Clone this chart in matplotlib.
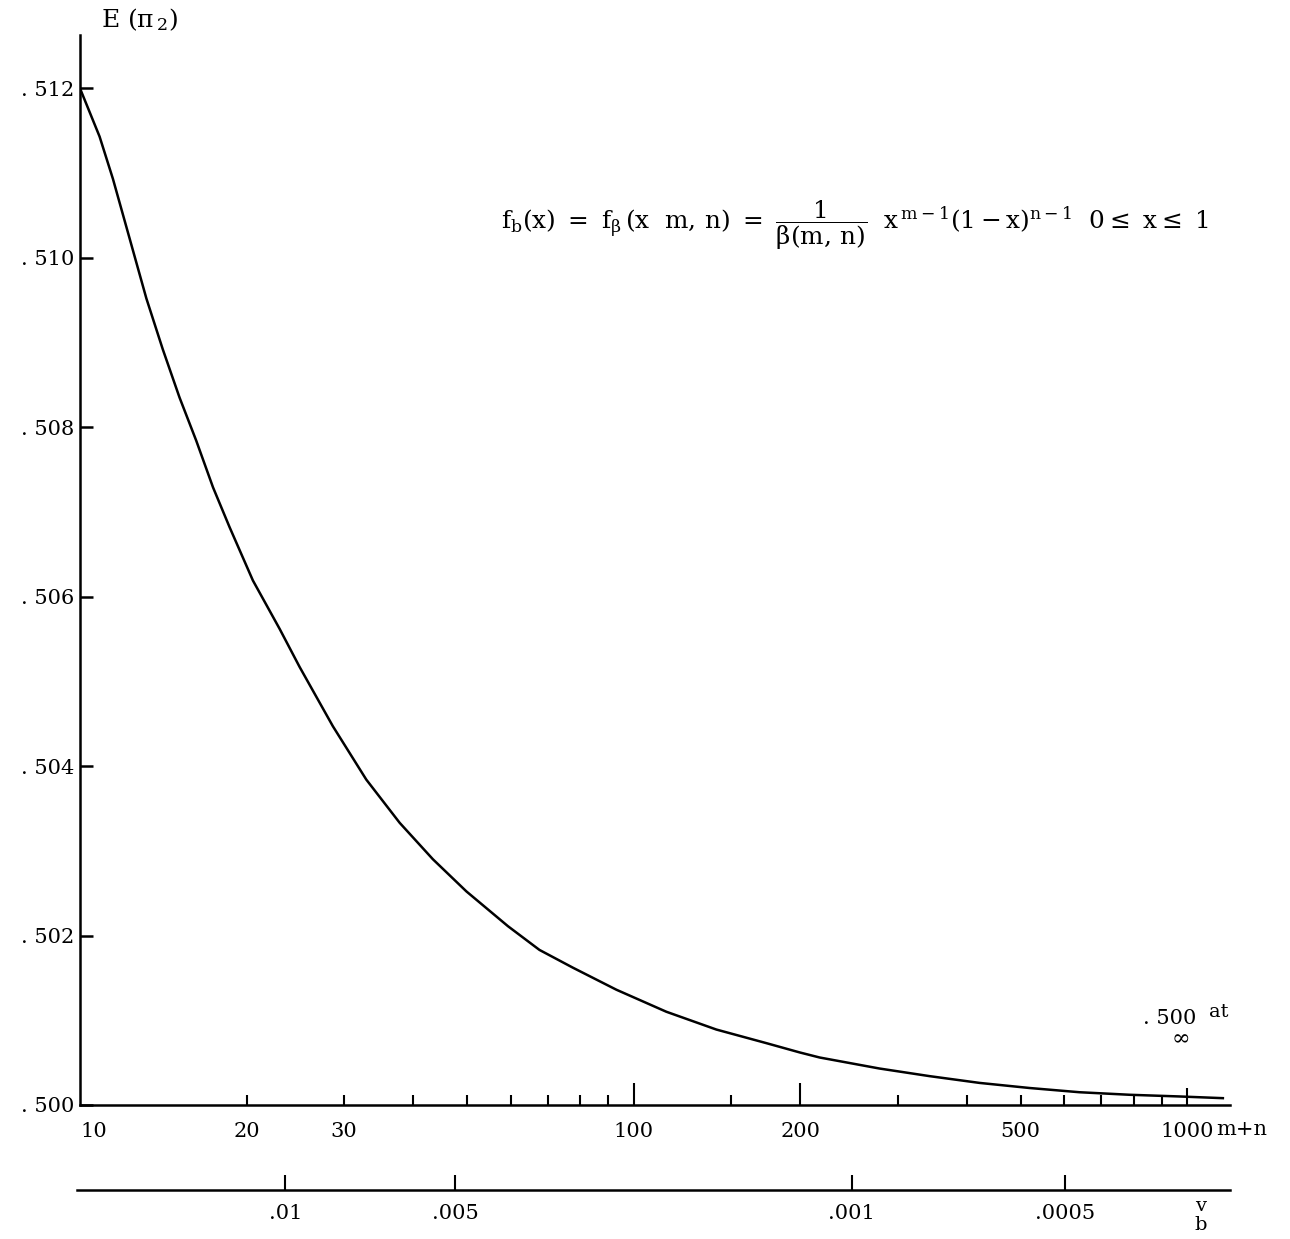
import matplotlib
matplotlib.use("Agg")
import matplotlib.pyplot as plt
import matplotlib.ticker as mticker

# curve: E(pi_2) against m+n
mn = [10, 10.85, 11.47, 12.29, 13.18, 14.11, 15.13, 16.22, 17.39, 18.63, 20.53,
      22.94, 24.93, 28.63, 32.9, 37.8, 43.4, 49.9, 59.3, 67.6, 77.7, 93.1, 114.6,
      141.1, 173.6, 199.5, 216.8, 278, 342.5, 421.7, 519, 639, 787, 969, 1160]
e_pi2 = [0.51200, 0.51143, 0.51093, 0.51023, 0.50952, 0.50892, 0.50835, 0.50784,
         0.50729, 0.50682, 0.50619, 0.50562, 0.50517, 0.50447, 0.50384, 0.50333,
         0.50290, 0.50252, 0.50211, 0.50183, 0.50162, 0.50136, 0.50110, 0.50089,
         0.50073, 0.50062, 0.50056, 0.50043, 0.50034, 0.50026, 0.50020, 0.50015,
         0.50012, 0.50010, 0.50008]

x_ticks = [10, 20, 30, 40, 50, 60, 70, 80, 90, 100, 150, 200, 300, 400, 500,
           600, 700, 800, 900, 1000]
x_labels = ['10', '20', '30', '', '', '', '', '', '', '100', '', '200', '', '',
            '500', '', '', '', '', '1000']
x_tall = [100, 200]

y_ticks = [0.500, 0.502, 0.504, 0.506, 0.508, 0.510, 0.512]
y_labels = ['. 500', '. 502', '. 504', '. 506', '. 508', '. 510', '. 512']

# second scale (v_b), positions given in m+n units
vb_labels = ['.01', '.005', '.001', '.0005']
vb_at_mn = [23.7, 48.0, 248.6, 603]

plt.rcParams['font.family'] = 'DejaVu Serif'
plt.rcParams['mathtext.fontset'] = 'dejavuserif'

fig = plt.figure(figsize=(12.9, 12.39), dpi=100)
ax = fig.add_axes([0.062, 0.1082, 0.8915, 0.8636])

ax.plot(mn, e_pi2, color='black', lw=1.8)
ax.set_xscale('log')
ax.set_xlim(10, 1195)
ax.set_ylim(0.500, 0.51263)

for s in ['top', 'right']:
    ax.spines[s].set_visible(False)
for s in ['left', 'bottom']:
    ax.spines[s].set_linewidth(1.8)

ax.xaxis.set_major_locator(mticker.FixedLocator(x_ticks))
ax.xaxis.set_major_formatter(mticker.FixedFormatter(x_labels))
ax.xaxis.set_minor_locator(mticker.NullLocator())
ax.tick_params(axis='x', direction='in', length=7, width=1.5, pad=12, labelsize=15)
for t, v in zip(ax.xaxis.get_major_ticks(), x_ticks):
    if v in x_tall:
        t.tick1line.set_markersize(16)
    if v == 1000:
        t.tick1line.set_markersize(12)
    if v == 10:
        t.tick1line.set_markersize(0)
        t.label1.set_horizontalalignment('left')

ax.set_yticks(y_ticks)
ax.set_yticklabels(y_labels)
ax.tick_params(axis='y', direction='in', length=9, width=1.8, pad=4, labelsize=15)

# v_b scale below
ax2 = fig.add_axes([0.060, 0.0395, 0.8935, 0.0001])
ax2.set_xscale('log')
ax2.set_xlim(ax.get_xlim())
ax2.patch.set_visible(False)
for s in ['top', 'right', 'left']:
    ax2.spines[s].set_visible(False)
ax2.spines['bottom'].set_linewidth(1.8)
ax2.set_yticks([])
ax2.xaxis.set_major_locator(mticker.FixedLocator(vb_at_mn))
ax2.xaxis.set_major_formatter(mticker.FixedFormatter(vb_labels))
ax2.xaxis.set_minor_locator(mticker.NullLocator())
ax2.tick_params(axis='x', direction='in', length=11, width=1.5, pad=10, labelsize=15)

# texts
fig.text(0.078, 0.984, r'E (π$_{\,2}$)', fontsize=18, va='center', ha='left')
fig.text(0.943, 0.088, 'm+n', fontsize=15, va='center', ha='left')
fig.text(0.931, 0.027, 'v', fontsize=14, va='center', ha='center')
fig.text(0.931, 0.011, 'b', fontsize=14, va='center', ha='center')
fig.text(0.388, 0.818,
         r'$\mathrm{f_b(x)\ =\ f_\beta\,(x\ \ m,\,n)\ =\ \dfrac{1}{\beta(m,\,n)}\ \ '
         r'x^{\,m-1}(1-x)^{n-1}\ \ 0\leq\ x\leq\ 1}$',
         fontsize=17.8, va='center', ha='left')
fig.text(0.886, 0.178, '. 500', fontsize=15, va='center', ha='left')
fig.text(0.937, 0.183, 'at', fontsize=14, va='center', ha='left')
fig.text(0.915, 0.163, r'$\infty$', fontsize=16, va='center', ha='center')

fig.savefig('out.png', dpi=100)
